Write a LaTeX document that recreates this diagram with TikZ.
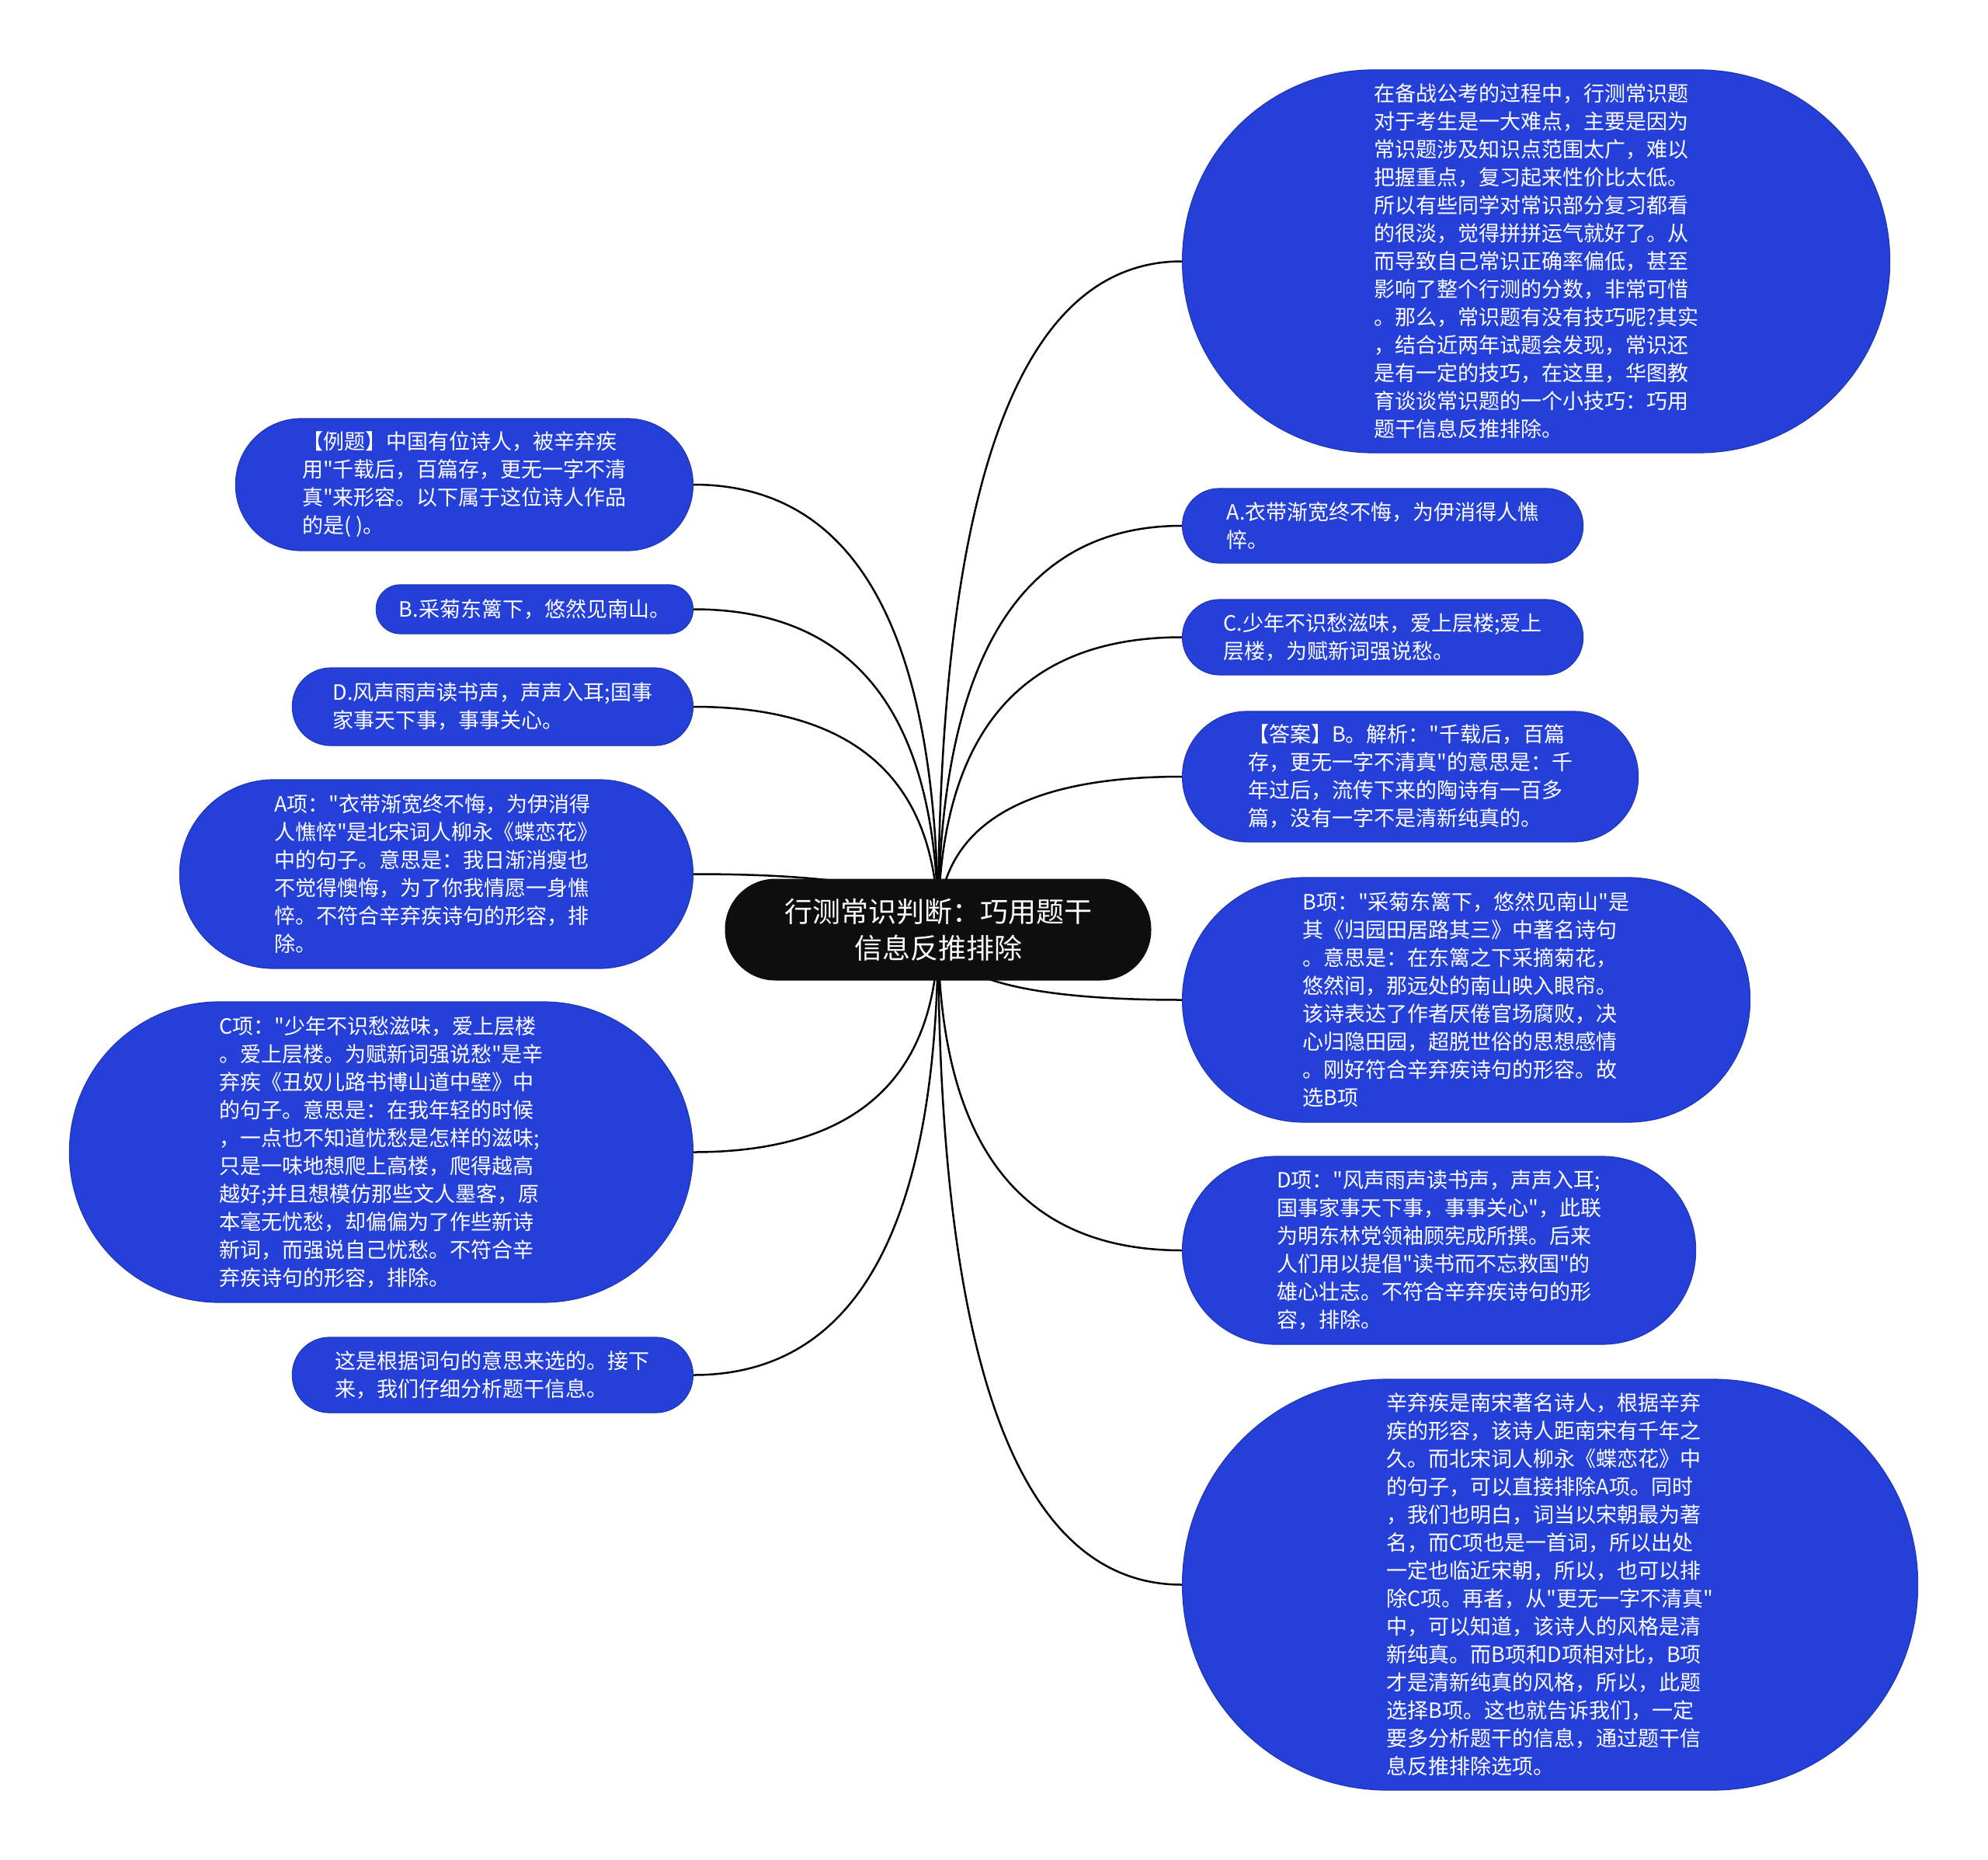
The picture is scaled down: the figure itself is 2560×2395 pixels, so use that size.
\documentclass[tikz,border=0pt]{standalone}
\usepackage{fontspec}
\setmainfont{Noto Sans CJK SC}[Ligatures=TeXOff]
\usetikzlibrary{calc}
\pgfdeclarelayer{bg}
\pgfsetlayers{bg,main}
\definecolor{nodeblue}{RGB}{36,64,216}
\definecolor{rootblack}{RGB}{14,14,14}
\begin{document}
\begin{tikzpicture}[x=1pt,y=-1pt,
  pill/.style={fill=nodeblue, draw=nodeblue!85!black, line width=1.2pt, text=white, align=left, inner sep=0pt, font=\fontsize{27}{36}\selectfont},
  sz/.style 2 args={minimum width=#1pt, minimum height=#2pt, rounded corners={(#2-1)*0.5pt}},
  rootnode/.style={fill=rootblack, text=white, align=center, inner sep=0pt, font=\fontsize{36}{47}\selectfont, minimum width=549pt, minimum height=131pt, rounded corners=65pt},
  conn/.style={draw=black, line width=2.5pt}]
\useasboundingbox (0,0) rectangle (2560,2395);
\begin{pgfonlayer}{bg}
\fill[white] (0,0) rectangle (2560,2395);
\end{pgfonlayer}

\node[rootnode] (root) at (1208,1197) {行测常识判断：巧用题干\\信息反推排除};

% right side
\node[pill, sz={911}{493}, anchor=west] (R1) at (1522,336.5) {在备战公考的过程中，行测常识题\\对于考生是一大难点，主要是因为\\常识题涉及知识点范围太广，难以\\把握重点，复习起来性价比太低。\\所以有些同学对常识部分复习都看\\的很淡，觉得拼拼运气就好了。从\\而导致自己常识正确率偏低，甚至\\影响了整个行测的分数，非常可惜\\。那么，常识题有没有技巧呢?其实\\，结合近两年试题会发现，常识还\\是有一定的技巧，在这里，华图教\\育谈谈常识题的一个小技巧：巧用\\题干信息反推排除。};
\node[pill, sz={516}{96}, anchor=west] (R2) at (1522,677) {A.衣带渐宽终不悔，为伊消得人憔\\悴。};
\node[pill, sz={516}{97}, anchor=west] (R3) at (1522,820.5) {C.少年不识愁滋味，爱上层楼;爱上\\层楼，为赋新词强说愁。};
\node[pill, sz={587}{168}, anchor=west] (R4) at (1522,1000) {【答案】B。解析："千载后，百篇\\存，更无一字不清真"的意思是：千\\年过后，流传下来的陶诗有一百多\\篇，没有一字不是清新纯真的。};
\node[pill, sz={731}{315}, anchor=west] (R5) at (1522,1287.5) {B项："采菊东篱下，悠然见南山"是\\其《归园田居路其三》中著名诗句\\。意思是：在东篱之下采摘菊花，\\悠然间，那远处的南山映入眼帘。\\该诗表达了作者厌倦官场腐败，决\\心归隐田园，超脱世俗的思想感情\\。刚好符合辛弃疾诗句的形容。故\\选B项};
\node[pill, sz={661}{242}, anchor=west] (R6) at (1522,1610) {D项："风声雨声读书声，声声入耳;\\国事家事天下事，事事关心"，此联\\为明东林党领袖顾宪成所撰。后来\\人们用以提倡"读书而不忘救国"的\\雄心壮志。不符合辛弃疾诗句的形\\容，排除。};
\node[pill, sz={947}{529}, anchor=west] (R7) at (1522,2040.5) {辛弃疾是南宋著名诗人，根据辛弃\\疾的形容，该诗人距南宋有千年之\\久。而北宋词人柳永《蝶恋花》中\\的句子，可以直接排除A项。同时\\，我们也明白，词当以宋朝最为著\\名，而C项也是一首词，所以出处\\一定也临近宋朝，所以，也可以排\\除C项。再者，从"更无一字不清真"\\中，可以知道，该诗人的风格是清\\新纯真。而B项和D项相对比，B项\\才是清新纯真的风格，所以，此题\\选择B项。这也就告诉我们，一定\\要多分析题干的信息，通过题干信\\息反推排除选项。};

% left side
\node[pill, sz={589}{170}, anchor=east] (L1) at (893,624) {【例题】中国有位诗人，被辛弃疾\\用"千载后，百篇存，更无一字不清\\真"来形容。以下属于这位诗人作品\\的是( )。};
\node[pill, sz={408}{63}, anchor=east] (L2) at (893,784.5) {B.采菊东篱下，悠然见南山。};
\node[pill, sz={516}{100}, anchor=east] (L3) at (893,910) {D.风声雨声读书声，声声入耳;国事\\家事天下事，事事关心。};
\node[pill, sz={661}{243}, anchor=east] (L4) at (893,1125.5) {A项："衣带渐宽终不悔，为伊消得\\人憔悴"是北宋词人柳永《蝶恋花》\\中的句子。意思是：我日渐消瘦也\\不觉得懊悔，为了你我情愿一身憔\\悴。不符合辛弃疾诗句的形容，排\\除。};
\node[pill, sz={803}{387}, anchor=east] (L5) at (893,1483.5) {C项："少年不识愁滋味，爱上层楼\\。爱上层楼。为赋新词强说愁"是辛\\弃疾《丑奴儿路书博山道中壁》中\\的句子。意思是：在我年轻的时候\\，一点也不知道忧愁是怎样的滋味;\\只是一味地想爬上高楼，爬得越高\\越好;并且想模仿那些文人墨客，原\\本毫无忧愁，却偏偏为了作些新诗\\新词，而强说自己忧愁。不符合辛\\弃疾诗句的形容，排除。};
\node[pill, sz={516}{97}, anchor=east] (L6) at (893,1770.5) {这是根据词句的意思来选的。接下\\来，我们仔细分析题干信息。};

\begin{pgfonlayer}{bg}
\foreach \n in {R1,R2,R3,R4,R5,R6,R7}
  \draw[conn] (root.center) .. controls ($(root.center)!0.6667!(root.center |- \n.west)$) and ($(\n.west)!0.6667!(root.center |- \n.west)$) .. (\n.west);
\foreach \n in {L1,L2,L3,L4,L5,L6}
  \draw[conn] (root.center) .. controls ($(root.center)!0.6667!(root.center |- \n.east)$) and ($(\n.east)!0.6667!(root.center |- \n.east)$) .. (\n.east);
\end{pgfonlayer}
\end{tikzpicture}
\end{document}
